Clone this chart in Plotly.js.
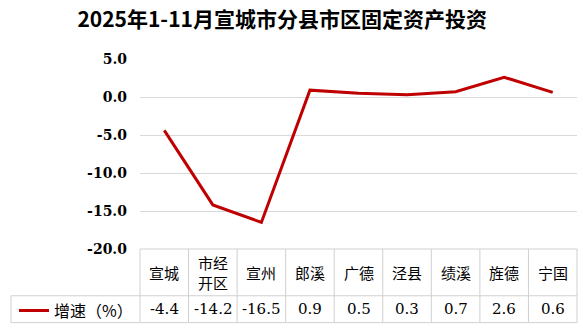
<!DOCTYPE html>
<html>
<head>
<meta charset="utf-8">
<script src="https://cdn.plot.ly/plotly-3.0.1.min.js"></script>
<style>html,body{margin:0;padding:0;background:#fff;}#chart{width:583px;height:332px;}</style>
</head>
<body>
<div id="chart"></div>
<script>
// ---- data ----
const titleText = "2025年1-11月宣城市分县市区固定资产投资";
const categories = ["宣城", "市经开区", "宣州", "郎溪", "广德", "泾县", "绩溪", "旌德", "宁国"];
const categoryLabels = ["宣城", "市经<br>开区", "宣州", "郎溪", "广德", "泾县", "绩溪", "旌德", "宁国"];
const growth = [-4.4, -14.2, -16.5, 0.9, 0.5, 0.3, 0.7, 2.6, 0.6];
const seriesName = "增速（%）";
const yTickVals = [-20, -15, -10, -5, 0, 5];
const yTickText = ["-20.0", "-15.0", "-10.0", "-5.0", "0.0", "5.0"];

// ---- styles ----
const lineColor = "#C00000";
const gridColor = "#D9D9D9";
const borderColor = "#D0D0D0";
const cjk = "Noto Sans CJK SC";
const numFont = "DejaVu Serif";

const W = 583, H = 332;
const mL = 140, mR = 6, mT = 59, mB = 82;
const pw = W - mL - mR, ph = H - mT - mB;
const px = x => (x - mL) / pw;          // pixel -> paper x
const py = y => (H - mB - y) / ph;      // pixel -> paper y

const row1Bottom = py(297), row2Bottom = py(324), legendLeft = px(11);

const shapes = [];
shapes.push({type:'line', xref:'paper', yref:'paper', x0:0, x1:1, y0:0, y1:0, line:{color:borderColor, width:1}});
shapes.push({type:'line', xref:'paper', yref:'paper', x0:legendLeft, x1:1, y0:row1Bottom, y1:row1Bottom, line:{color:borderColor, width:1}});
shapes.push({type:'line', xref:'paper', yref:'paper', x0:legendLeft, x1:1, y0:row2Bottom, y1:row2Bottom, line:{color:borderColor, width:1}});
for (let i = 0; i <= categories.length; i++) {
  const xp = i / categories.length;
  shapes.push({type:'line', xref:'paper', yref:'paper', x0:xp, x1:xp, y0:0, y1:row2Bottom, line:{color:borderColor, width:1}});
}
shapes.push({type:'line', xref:'paper', yref:'paper', x0:legendLeft, x1:legendLeft, y0:row1Bottom, y1:row2Bottom, line:{color:borderColor, width:1}});

const annotations = [];
categories.forEach((c, i) => {
  annotations.push({xref:'x', yref:'paper', x:c, y:(0 + row1Bottom) / 2, text:categoryLabels[i],
    showarrow:false, xanchor:'center', yanchor:'middle', font:{family:cjk, size:15, color:'#000'}});
  annotations.push({xref:'x', yref:'paper', x:c, y:(row1Bottom + row2Bottom) / 2, text:growth[i].toFixed(1),
    showarrow:false, xanchor:'center', yanchor:'middle', font:{family:numFont, size:15, color:'#000'}});
});

const trace = {
  type:'scatter', mode:'lines', name:seriesName,
  x:categories, y:growth,
  line:{color:lineColor, width:3},
  hoverinfo:'skip'
};

const layout = {
  width:W, height:H,
  margin:{l:mL, r:mR, t:mT, b:mB},
  paper_bgcolor:'#fff', plot_bgcolor:'#fff',
  title:{text:'<b>' + titleText + '</b>', x:0.484, xanchor:'center', y:0.94, yanchor:'middle',
    font:{family:cjk, size:21, color:'#000'}},
  xaxis:{type:'category', categoryarray:categories, range:[-0.5, categories.length - 0.5],
    showticklabels:false, showgrid:false, zeroline:false, showline:false, ticks:''},
  yaxis:{range:[-20, 5], tickvals:yTickVals, ticktext:yTickText, showgrid:true, gridcolor:gridColor, gridwidth:1,
    zeroline:false, showline:false, ticks:'', ticklabelstandoff:12,
    tickfont:{family:numFont, size:14, color:'#000', weight:'bold'}},
  showlegend:true,
  legend:{x:px(14), y:(row1Bottom + row2Bottom) / 2, xanchor:'left', yanchor:'middle', orientation:'h',
    bgcolor:'rgba(0,0,0,0)', font:{family:cjk, size:16, color:'#000'}, itemwidth:30},
  shapes:shapes,
  annotations:annotations
};

Plotly.newPlot('chart', [trace], layout, {staticPlot:true, displayModeBar:false});
</script>
</body>
</html>
